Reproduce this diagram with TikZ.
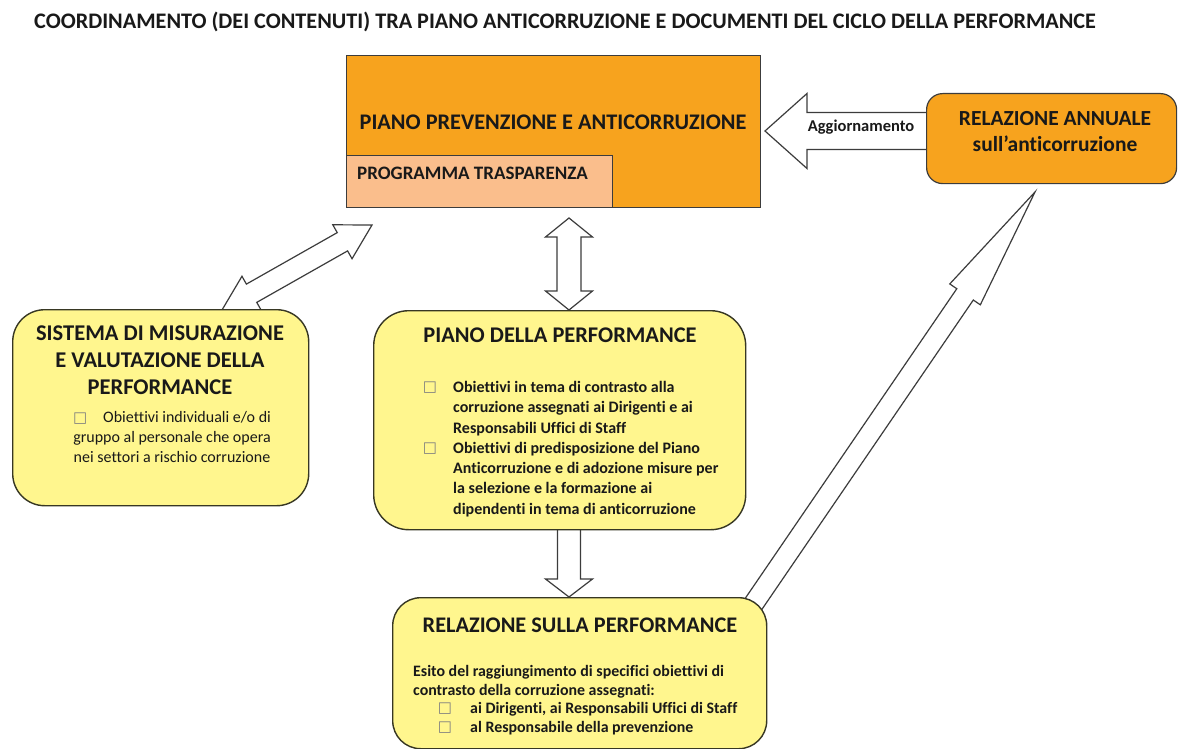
\documentclass[tikz,border=0pt]{standalone}
\usepackage{fontspec}
\setmainfont{Carlito}[Ligatures=NoCommon]
\newfontfamily\dejavu{DejaVu Sans}
\usetikzlibrary{calc}
\definecolor{orng}{RGB}{247,163,30}
\definecolor{peach}{RGB}{250,190,140}
\definecolor{yel}{RGB}{255,246,142}
\definecolor{edgec}{RGB}{60,60,60}
\definecolor{yedge}{RGB}{55,55,35}
\definecolor{txtc}{RGB}{25,25,25}
\newcommand\sqb{{\dejavu\fontsize{15}{15}\selectfont\textcolor{gray}{□}}}
\newcommand\fs[2]{\fontsize{#1}{#2}\selectfont}
\newcommand\singlearrow[6]{%
  \coordinate (#1c) at ($(#3)!#6!(#2)$);
  \draw[barrow] ($(#2)!#4!90:(#3)$) -- ($(#1c)!#4!-90:(#2)$) -- ($(#1c)!#5!-90:(#2)$) -- (#3)
     -- ($(#1c)!#5!90:(#2)$) -- ($(#1c)!#4!90:(#2)$) -- ($(#2)!#4!-90:(#3)$) -- cycle;}
\newcommand\dblarrow[6]{%
  \coordinate (#1a) at ($(#2)!#6!(#3)$);
  \coordinate (#1b) at ($(#3)!#6!(#2)$);
  \draw[barrow] (#2) -- ($(#1a)!#5!90:(#3)$) -- ($(#1a)!#4!90:(#3)$) -- ($(#1b)!#4!-90:(#2)$)
     -- ($(#1b)!#5!-90:(#2)$) -- (#3) -- ($(#1b)!#5!90:(#2)$) -- ($(#1b)!#4!90:(#2)$)
     -- ($(#1a)!#4!-90:(#3)$) -- ($(#1a)!#5!-90:(#3)$) -- cycle;}
\tikzset{
  barrow/.style={draw=edgec, line width=1.2pt, fill=white, line join=miter},
  obox/.style={draw=edgec, line width=0.9pt, fill=orng, anchor=north west, inner sep=0pt},
  pbox/.style={draw=edgec, line width=0.9pt, fill=peach, anchor=north west, inner sep=0pt},
  ybox/.style={draw=yedge, line width=1.4pt, fill=yel, anchor=north west, inner sep=0pt, rounded corners=#1},
  ybox/.default=30pt,
  rbox/.style={draw=edgec, line width=1.2pt, fill=orng, anchor=north west, inner sep=0pt, rounded corners=16pt},
  txt/.style={text=txtc, inner sep=0pt, font=\bfseries},
}
\begin{document}
\begin{tikzpicture}[x=1pt,y=-1pt]
\useasboundingbox[fill=white] (0,0) rectangle (1189,749);

% title
\node[txt, anchor=west, font=\bfseries\fs{22.2}{26}] (title) at (34,22)
  {COORDINAMENTO (DEI CONTENUTI) TRA PIANO ANTICORRUZIONE E DOCUMENTI DEL CICLO DELLA PERFORMANCE};

% connector coordinates
\coordinate (agtail) at (935,131);
\coordinate (agtip) at (765,131);
\coordinate (dgA) at (222,310);
\coordinate (dgB) at (372,225);
\coordinate (vtA) at (569,218);
\coordinate (vtB) at (569,310);
\coordinate (dnA) at (569,520);
\coordinate (dnB) at (569,597);
\coordinate (lgA) at (748,612);
\coordinate (lgB) at (1035,192);

% arrows (behind boxes)
\singlearrow{ag}{agtail}{agtip}{18.5pt}{37.5pt}{42pt}
\dblarrow{dg}{dgA}{dgB}{10.5pt}{19.5pt}{34pt}
\dblarrow{vt}{vtA}{vtB}{12pt}{23.5pt}{19pt}
\singlearrow{dn}{dnA}{dnB}{11.5pt}{23.5pt}{18pt}
\singlearrow{lg}{lgA}{lgB}{10pt}{18.5pt}{124pt}
\node[txt, font=\bfseries\fs{16.5}{19}] (agtext) at (861,127) {Aggiornamento};

% main orange box
\node[obox, minimum width=414pt, minimum height=152pt] (ppa) at (346,55) {};
\node[pbox, minimum width=266pt, minimum height=52pt] (prog) at (346,155) {};
\node[txt, font=\bfseries\fs{22.3}{26}] (ppat) at (553,122) {PIANO PREVENZIONE E ANTICORRUZIONE};
\node[txt, anchor=west, font=\bfseries\fs{19}{22}] (progt) at (357,173) {PROGRAMMA TRASPARENZA};

% relazione annuale
\node[rbox, minimum width=250pt, minimum height=90pt] (ra) at (926,93) {};
\node[txt, font=\bfseries\fs{21.5}{25}] (rat1) at (1055,119) {RELAZIONE ANNUALE};
\node[txt, font=\bfseries\fs{21.5}{25}] (rat2) at (1055,144) {sull’anticorruzione};

% sistema
\node[ybox=32pt, minimum width=296pt, minimum height=196pt] (smv) at (12,309) {};
\node[txt, font=\bfseries\fs{22.5}{27}, align=center] (smvt) at (160,360)
  {SISTEMA DI MISURAZIONE\\E VALUTAZIONE DELLA\\PERFORMANCE};
\node[txt, font=\mdseries\fs{16}{20.3}, align=center] (smvb) at (172,437)
  {\sqb\quad Obiettivi individuali e/o di\\gruppo al personale che opera\\nei settori a rischio corruzione};

% piano della performance
\node[ybox=35pt, minimum width=372pt, minimum height=219pt] (pdp) at (373,310) {};
\node[txt, font=\bfseries\fs{22.4}{26}] (pdpt) at (560,335) {PIANO DELLA PERFORMANCE};
\node[txt] (pdpq1) at (430,388) {\sqb};
\node[txt] (pdpq2) at (430,449) {\sqb};
\node[txt, anchor=north west, align=left, font=\bfseries\fs{16}{20.3}] (pdpb) at (453,381)
  {Obiettivi in tema di contrasto alla\\corruzione assegnati ai Dirigenti e ai\\Responsabili Uffici di Staff\\
   Obiettivi di predisposizione del Piano\\Anticorruzione e di adozione misure per\\la selezione e la formazione ai\\dipendenti in tema di anticorruzione};

% relazione sulla performance
\node[ybox=28pt, minimum width=374pt, minimum height=151pt] (rsp) at (392,597) {};
\node[txt, font=\bfseries\fs{22.3}{26}] (rspt) at (580,625) {RELAZIONE SULLA PERFORMANCE};
\node[txt, anchor=north west, align=left, font=\bfseries\fs{15.9}{18.7}] (rspb) at (413,665)
  {Esito del raggiungimento di specifici obiettivi di\\contrasto della corruzione assegnati:};
\node[txt] (rspq1) at (445,709) {\sqb};
\node[txt] (rspq2) at (445,728) {\sqb};
\node[txt, anchor=north west, align=left, font=\bfseries\fs{15.9}{18.7}] (rspc) at (470,702)
  {ai Dirigenti, ai Responsabili Uffici di Staff\\al Responsabile della prevenzione};
\end{tikzpicture}
\end{document}
